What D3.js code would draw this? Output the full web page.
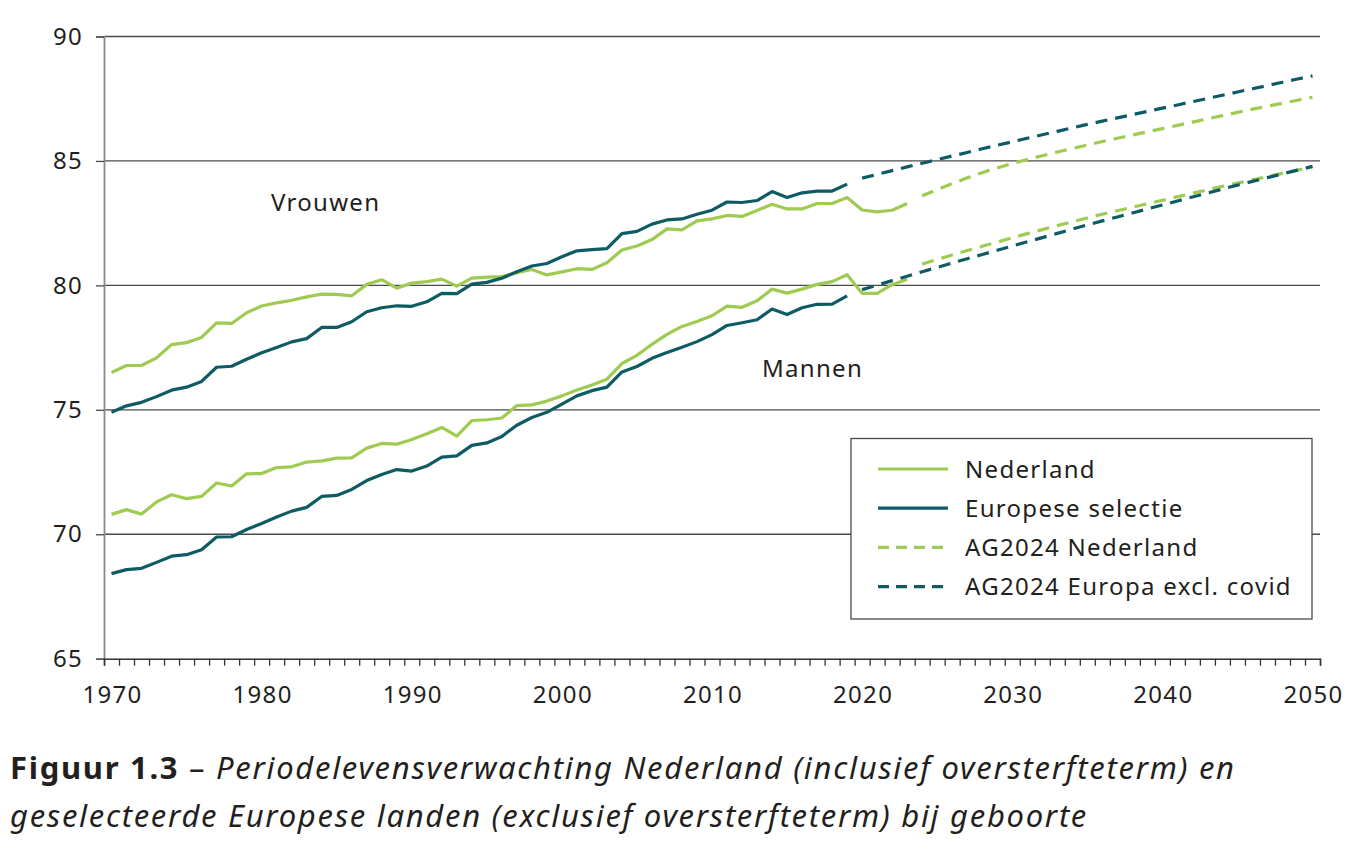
<!DOCTYPE html>
<html>
<head>
<meta charset="utf-8">
<script src="https://cdn.jsdelivr.net/npm/d3@7"></script>
<style>
  body { margin: 0; background: #fff; }
  svg text { font-family: "Noto Sans", sans-serif; fill: #231f20; letter-spacing: 1.3px; }
</style>
</head>
<body>
<svg id="chart"></svg>
<script>
// Chart size, same as the browser window.
const SVG_WIDTH = 1356;
const SVG_HEIGHT = 850;

const GREEN = '#9fcb52';
const TEAL = '#0e5b64';

// Observed life expectancy, Nederland 1970-2023 and European selection 1970-2019.
const yearsNL = d3.range(1970, 2024);
const yearsEU = d3.range(1970, 2020);

const vrouwenNL = [
  76.5, 76.78, 76.78, 77.09, 77.62, 77.7, 77.91, 78.49, 78.47, 78.9,
  79.17, 79.3, 79.4, 79.54, 79.65, 79.64, 79.58, 80.04, 80.23, 79.89,
  80.09, 80.15, 80.25, 79.97, 80.29, 80.33, 80.35, 80.51, 80.64, 80.42,
  80.54, 80.67, 80.64, 80.91, 81.42, 81.58, 81.84, 82.27, 82.23, 82.59,
  82.67, 82.81, 82.77, 83.01, 83.26, 83.07, 83.07, 83.29, 83.29, 83.53,
  83.03, 82.95, 83.02, 83.29
];
const vrouwenEU = [
  74.9, 75.16, 75.3, 75.53, 75.79, 75.91, 76.14, 76.71, 76.75, 77.03,
  77.29, 77.5, 77.73, 77.86, 78.31, 78.31, 78.54, 78.94, 79.1, 79.18,
  79.16, 79.34, 79.68, 79.67, 80.05, 80.12, 80.29, 80.55, 80.78, 80.88,
  81.15, 81.39, 81.44, 81.48, 82.08, 82.17, 82.46, 82.63, 82.67, 82.86,
  83.02, 83.35, 83.33, 83.41, 83.77, 83.53, 83.72, 83.79, 83.79, 84.07
];
const mannenNL = [
  70.8, 70.99, 70.81, 71.3, 71.59, 71.43, 71.52, 72.06, 71.94, 72.43,
  72.44, 72.68, 72.71, 72.9, 72.95, 73.06, 73.07, 73.46, 73.65, 73.62,
  73.81, 74.04, 74.29, 73.94, 74.57, 74.6, 74.67, 75.17, 75.2, 75.35,
  75.56, 75.8, 76.0, 76.23, 76.86, 77.19, 77.63, 78.03, 78.35, 78.55,
  78.78, 79.17, 79.12, 79.38, 79.85, 79.69, 79.85, 80.04, 80.15, 80.43,
  79.68, 79.68, 80.03, 80.25
];
const mannenEU = [
  68.42, 68.58, 68.63, 68.87, 69.12, 69.18, 69.38, 69.89, 69.9, 70.19,
  70.43, 70.69, 70.93, 71.08, 71.52, 71.56, 71.8, 72.16, 72.4, 72.6,
  72.54, 72.74, 73.1, 73.15, 73.57, 73.67, 73.93, 74.38, 74.69, 74.9,
  75.23, 75.56, 75.77, 75.91, 76.52, 76.74, 77.07, 77.3, 77.51, 77.74,
  78.02, 78.39, 78.5, 78.62, 79.05, 78.83, 79.1, 79.24, 79.25, 79.58
];

// AG2024 projections: Nederland 2024-2050, Europa excl. covid 2020-2050.
const yearsAGNL = d3.range(2024, 2051);
const yearsAGEU = d3.range(2020, 2051);

const vrouwenAGNL = [
  83.6, 83.85, 84.09, 84.32, 84.53, 84.72, 84.9, 85.06, 85.21, 85.36,
  85.5, 85.64, 85.78, 85.91, 86.04, 86.17, 86.3, 86.43, 86.56, 86.69,
  86.82, 86.95, 87.08, 87.2, 87.32, 87.44, 87.56
];
const vrouwenAGEU = [
  84.31, 84.46, 84.61, 84.76, 84.91, 85.05, 85.2, 85.34, 85.49, 85.63,
  85.77, 85.91, 86.05, 86.19, 86.33, 86.47, 86.6, 86.73, 86.86, 86.99,
  87.12, 87.25, 87.38, 87.51, 87.64, 87.77, 87.9, 88.03, 88.16, 88.29, 88.42
];
const mannenAGNL = [
  80.86, 81.04, 81.22, 81.4, 81.57, 81.74, 81.91, 82.08, 82.24, 82.4,
  82.56, 82.71, 82.86, 83.0, 83.14, 83.28, 83.42, 83.56, 83.7, 83.84,
  83.98, 84.11, 84.24, 84.37, 84.5, 84.63, 84.77
];
const mannenAGEU = [
  79.83, 80.01, 80.19, 80.37, 80.55, 80.72, 80.9, 81.07, 81.24, 81.41,
  81.58, 81.75, 81.92, 82.09, 82.26, 82.43, 82.59, 82.75, 82.91, 83.07,
  83.23, 83.39, 83.55, 83.71, 83.87, 84.03, 84.18, 84.33, 84.48, 84.63, 84.78
];

const yTicks = [65, 70, 75, 80, 85, 90];
const xLabels = [1970, 1980, 1990, 2000, 2010, 2020, 2030, 2040, 2050];

const legendLabels = ['Nederland', 'Europese selectie', 'AG2024 Nederland', 'AG2024 Europa excl. covid'];
const legendColors = [GREEN, TEAL, GREEN, TEAL];
const legendDashed = [false, false, true, true];

const svg = d3.select('#chart')
  .attr('width', SVG_WIDTH)
  .attr('height', SVG_HEIGHT);

svg.append('rect').attr('width', SVG_WIDTH).attr('height', SVG_HEIGHT).attr('fill', '#fff');

// Category axis like the original: each year a slot, ticks on the slot edges.
const x = d3.scaleLinear().domain([1969.5, 2050.5]).range([104, 1320]);
const y = d3.scaleLinear().domain([65, 90]).range([658.7, 36.5]);

// gridlines
svg.append('g')
  .selectAll('line')
  .data(yTicks.filter(d => d > 65))
  .join('line')
  .attr('x1', x(1969.5)).attr('x2', x(2050.5))
  .attr('y1', d => y(d)).attr('y2', d => y(d))
  .attr('stroke', '#4a4a4a')
  .attr('stroke-width', 1.3);

// y axis
const yAxis = svg.append('g')
  .attr('transform', `translate(${x(1969.5)},0)`)
  .call(d3.axisLeft(y).tickValues(yTicks).tickSize(8).tickPadding(13));
yAxis.select('.domain').attr('stroke', '#8a8a8a').attr('stroke-width', 1.8);
yAxis.selectAll('.tick line').attr('stroke', '#4a4a4a').attr('stroke-width', 1.3);
yAxis.selectAll('.tick text')
  .attr('font-size', 24)
  .attr('font-family', '"Noto Sans", sans-serif')
  .attr('fill', '#231f20');

// x axis: tick marks on the year boundaries, labels every 10 years
const xAxis = svg.append('g')
  .attr('transform', `translate(0,${y(65)})`)
  .call(d3.axisBottom(x).tickValues(d3.range(1969.5, 2051, 1)).tickSize(7).tickFormat(''));
xAxis.select('.domain').attr('stroke', '#333').attr('stroke-width', 1.5);
xAxis.selectAll('.tick line').attr('stroke', '#333').attr('stroke-width', 1.3);

svg.append('g')
  .selectAll('text')
  .data(xLabels)
  .join('text')
  .attr('x', d => x(d) + 1)
  .attr('y', 703)
  .attr('text-anchor', 'middle')
  .attr('font-size', 24)
  .text(d => d);

const line = d3.line().x(d => x(d[0])).y(d => y(d[1]));

function drawSeries(years, values, color, dashed) {
  svg.append('path')
    .datum(years.map((yr, i) => [yr, values[i]]))
    .attr('d', line)
    .attr('fill', 'none')
    .attr('stroke', color)
    .attr('stroke-width', 3.2)
    .attr('stroke-linejoin', 'round')
    .attr('stroke-dasharray', dashed ? '12,8' : null);
}

drawSeries(yearsNL, vrouwenNL, GREEN, false);
drawSeries(yearsEU, vrouwenEU, TEAL, false);
drawSeries(yearsNL, mannenNL, GREEN, false);
drawSeries(yearsEU, mannenEU, TEAL, false);
drawSeries(yearsAGNL, vrouwenAGNL, GREEN, true);
drawSeries(yearsAGEU, vrouwenAGEU, TEAL, true);
drawSeries(yearsAGNL, mannenAGNL, GREEN, true);
drawSeries(yearsAGEU, mannenAGEU, TEAL, true);

// series labels
svg.append('text').attr('x', 271).attr('y', 211).attr('font-size', 24).text('Vrouwen');
svg.append('text').attr('x', 762).attr('y', 377).attr('font-size', 24).text('Mannen');

// legend
const legend = svg.append('g');
legend.append('rect')
  .attr('x', 851).attr('y', 438.5)
  .attr('width', 461).attr('height', 180.5)
  .attr('fill', '#fff')
  .attr('stroke', '#4a4a4a')
  .attr('stroke-width', 1.3);

const rows = legend.selectAll('g.row')
  .data(legendLabels)
  .join('g')
  .attr('class', 'row')
  .attr('transform', (d, i) => `translate(0,${469 + i * 39.2})`);

rows.append('line')
  .attr('x1', 878).attr('x2', 948)
  .attr('stroke', (d, i) => legendColors[i])
  .attr('stroke-width', 3.2)
  .attr('stroke-dasharray', (d, i) => legendDashed[i] ? '11,7' : null);

rows.append('text')
  .attr('x', 965).attr('y', 8.5)
  .attr('font-size', 24)
  .text(d => d);

// caption
const cap1 = svg.append('text').attr('x', 10).attr('y', 779).attr('font-size', 31)
  .style('letter-spacing', '1.7px');
cap1.append('tspan').attr('font-weight', 'bold').text('Figuur 1.3');
cap1.append('tspan').text(' \u2013 ');
cap1.append('tspan').attr('font-style', 'italic')
  .text('Periodelevensverwachting Nederland (inclusief oversterfteterm) en');

svg.append('text').attr('x', 10).attr('y', 827).attr('font-size', 31)
  .style('letter-spacing', '1.7px')
  .attr('font-style', 'italic')
  .text('geselecteerde Europese landen (exclusief oversterfteterm) bij geboorte');
</script>
</body>
</html>
